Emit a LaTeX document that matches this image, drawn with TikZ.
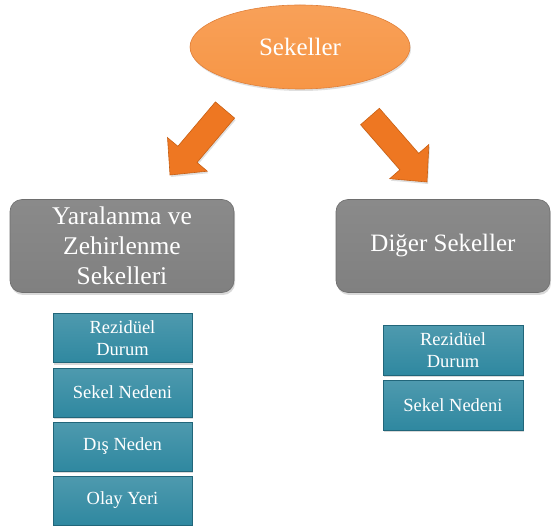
\documentclass[tikz,border=0pt]{standalone}
\usepackage{fontspec}
\setmainfont{Liberation Serif}
\usetikzlibrary{shapes.geometric,shadows}
\definecolor{orangeFill}{HTML}{F79646}
\definecolor{orangeEdge}{HTML}{E0803A}
\definecolor{arrowFill}{HTML}{EE7722}
\definecolor{arrowEdge}{HTML}{C85F12}
\definecolor{greyFill}{HTML}{808080}
\definecolor{greyEdge}{HTML}{6E6E6E}
\definecolor{tealFill}{HTML}{2F88A0}
\definecolor{tealEdge}{HTML}{21667A}
\tikzset{
  rootnode/.style={ellipse, minimum width=220pt, minimum height=84pt,
    top color=orangeFill!90!white, bottom color=orangeFill, draw=orangeEdge, line width=0.6pt,
    text=white, font=\fontsize{25}{30}\selectfont,
    drop shadow={opacity=0.25, shadow xshift=1pt, shadow yshift=-2pt}},
  groupbox/.style={rectangle, rounded corners=12pt, minimum height=93pt,
    top color=greyFill!92!white, bottom color=greyFill, draw=greyEdge, line width=0.6pt,
    text=white, align=center, font=\fontsize{25.5}{30}\selectfont,
    drop shadow={opacity=0.3, shadow xshift=1pt, shadow yshift=-2.5pt}},
  itembox/.style={rectangle, minimum width=139pt, minimum height=49pt,
    top color=tealFill!85!white, bottom color=tealFill, draw=tealEdge, line width=0.5pt,
    text=white, align=center, font=\fontsize{18.5}{22}\selectfont, inner sep=1pt,
    drop shadow={opacity=0.3, shadow xshift=1pt, shadow yshift=-2pt}},
  blockarrow/.style={fill=arrowFill, draw=arrowEdge, line width=0.6pt, line join=miter,
    drop shadow={opacity=0.25, shadow xshift=1pt, shadow yshift=-2pt}}
}
\begin{document}
\begin{tikzpicture}[x=1pt, y=-1pt]
  \useasboundingbox (0,0) rectangle (551,526);

  % top concept
  \node[rootnode] (root) at (300,47) {Sekeller};

  % block arrows pointing to the two groups
  \path[blockarrow] (215.4,101.9) -- (234.6,118.1) -- (197.0,162.5) -- (207.3,171.2)
        -- (170,175) -- (167.5,137.6) -- (177.9,146.3) -- cycle;
  \path[blockarrow] (379.4,108.3) -- (360.6,124.7) -- (399.9,169.8) -- (389.7,178.7)
        -- (427,182) -- (428.9,144.5) -- (418.7,153.4) -- cycle;

  % group boxes
  \node[groupbox, minimum width=224pt] (injury) at (122,246)
    {Yaralanma ve\\Zehirlenme\\Sekelleri};
  \node[groupbox, minimum width=214pt, font=\fontsize{25}{30}\selectfont] (other) at (443,246) {Diğer Sekeller};

  % items of the first group
  \node[itembox] (l1) at (122.5,338) {Rezidüel\\Durum};
  \node[itembox] (l2) at (122.5,392.5) {Sekel Nedeni};
  \node[itembox] (l3) at (122.5,446.5) {Dış Neden};
  \node[itembox] (l4) at (122.5,500.5) {Olay Yeri};

  % items of the second group
  \node[itembox, minimum width=140pt, minimum height=50pt] (r1) at (453,350) {Rezidüel\\Durum};
  \node[itembox, minimum width=140pt, minimum height=50pt] (r2) at (453,405) {Sekel Nedeni};
\end{tikzpicture}
\end{document}
